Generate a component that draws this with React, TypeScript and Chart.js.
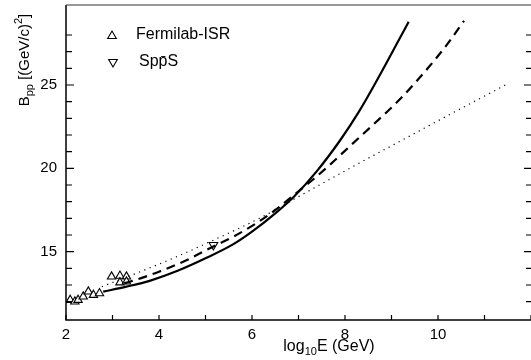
import React, { useEffect, useRef } from 'react';
import { Chart, registerables } from 'chart.js';

Chart.register(...registerables);

// Fermilab-ISR data (triangles up)
const fermiX = [2.09, 2.19, 2.26, 2.37, 2.48, 2.59, 2.72, 2.98, 3.16, 3.30, 3.16, 3.30];
const fermiY = [12.1, 12.0, 12.1, 12.3, 12.6, 12.4, 12.5, 13.5, 13.55, 13.5, 13.15, 13.2];
// SppS data (triangle down)
const sppsX = [5.17];
const sppsY = [15.4];

// solid curve
const solidX = [2.8, 3.3, 3.8, 4.4, 5.0, 5.6, 6.0, 6.5, 6.9, 7.4, 7.9, 8.3, 8.75, 9.37];
const solidY = [12.6, 12.9, 13.25, 13.85, 14.6, 15.45, 16.2, 17.3, 18.3, 19.85, 21.7, 23.4, 25.6, 28.8];
// dashed curve
const dashX = [3.25, 3.6, 4.0, 4.6, 5.16, 5.6, 6.09, 6.5, 6.9, 7.3, 7.67, 8.17, 8.56, 9.2, 9.78, 10.2, 10.56];
const dashY = [13.1, 13.4, 13.8, 14.5, 15.3, 15.9, 16.7, 17.5, 18.4, 19.3, 20.2, 21.5, 22.5, 24.2, 26.0, 27.45, 28.85];
// dotted curve
const dotX = [2.77, 3.6, 4.3, 5.1, 6.16, 7.0, 8.1, 9.3, 10.3, 11.45];
const dotY = [12.9, 13.8, 14.6, 15.6, 17.0, 18.3, 20.0, 21.8, 23.3, 25.0];

const xTickLabels = [2, 4, 6, 8, 10];
const yTickLabels = [15, 20, 25];
const legendLabels = ['Fermilab-ISR', 'Spp\u0304S'];

const FONT = '"Liberation Sans", Arial, sans-serif';

const zip = (xs: number[], ys: number[]) => xs.map((x, i) => ({ x, y: ys[i] }));

function triangle(ctx: CanvasRenderingContext2D, x: number, y: number, r: number, rot: number) {
  let rad = (rot * Math.PI) / 180;
  ctx.beginPath();
  for (let i = 0; i < 3; i++) {
    const px = x + Math.sin(rad) * r;
    const py = y - Math.cos(rad) * r;
    if (i === 0) ctx.moveTo(px, py);
    else ctx.lineTo(px, py);
    rad += (2 * Math.PI) / 3;
  }
  ctx.closePath();
  ctx.fillStyle = '#fff';
  ctx.fill();
  ctx.strokeStyle = '#000';
  ctx.lineWidth = 1.1;
  ctx.stroke();
}

const framePlugin = {
  id: 'frame',
  afterDraw(chart: any) {
    const { ctx, chartArea: a } = chart;
    const xs = chart.scales.x;
    const ys = chart.scales.y;
    ctx.save();
    ctx.strokeStyle = '#000';
    ctx.lineWidth = 1.5;
    ctx.beginPath();
    ctx.moveTo(a.left, a.top);
    ctx.lineTo(a.left, a.bottom);
    ctx.lineTo(a.right, a.bottom);
    ctx.stroke();
    ctx.strokeStyle = '#333';
    ctx.lineWidth = 1.2;
    ctx.beginPath();
    ctx.moveTo(a.left, a.top);
    ctx.lineTo(a.right, a.top);
    ctx.stroke();
    ctx.strokeStyle = '#000';
    ctx.lineWidth = 1.2;
    xs.ticks.forEach((t: any) => {
      if (!Number.isInteger(t.value)) return;
      const px = xs.getPixelForValue(t.value);
      ctx.beginPath();
      ctx.moveTo(px, a.bottom);
      ctx.lineTo(px, a.bottom - 5);
      ctx.stroke();
    });
    ys.ticks.forEach((t: any) => {
      if (!Number.isInteger(t.value)) return;
      const py = ys.getPixelForValue(t.value);
      const len = t.value % 5 === 0 ? 8 : 6;
      ctx.beginPath();
      ctx.moveTo(a.left, py);
      ctx.lineTo(a.left + len, py);
      ctx.moveTo(a.right, py);
      ctx.lineTo(a.right - len + 1, py);
      ctx.stroke();
    });

    // legend
    triangle(ctx, 112, 36, 5, 0);
    triangle(ctx, 113, 62, 5, 180);
    ctx.fillStyle = '#000';
    ctx.font = '16px ' + FONT;
    ctx.textBaseline = 'middle';
    ctx.textAlign = 'left';
    ctx.fillText(legendLabels[0], 136, 35);
    ctx.fillText(legendLabels[1], 139, 62);

    // x title
    ctx.textBaseline = 'alphabetic';
    const big = '16px ' + FONT;
    const small = '11px ' + FONT;
    ctx.font = big;
    const w1 = ctx.measureText('log').width;
    const w3 = ctx.measureText('E (GeV)').width;
    ctx.font = small;
    const w2 = ctx.measureText('10').width;
    const x0 = 329 - (w1 + w2 + w3) / 2;
    const by = 351;
    ctx.font = big;
    ctx.fillText('log', x0, by);
    ctx.font = small;
    ctx.fillText('10', x0 + w1, by + 4);
    ctx.font = big;
    ctx.fillText('E (GeV)', x0 + w1 + w2, by);

    // y title
    const ybig = '15px ' + FONT;
    ctx.save();
    ctx.translate(29, 60);
    ctx.rotate(-Math.PI / 2);
    const parts: [string, string, number][] = [
      ['B', ybig, 0],
      ['pp', small, 4],
      [' [(GeV/c)', ybig, 0],
      ['2', small, -7],
      [']', ybig, 0],
    ];
    let total = 0;
    const widths = parts.map(([s, f]) => {
      ctx.font = f;
      const w = ctx.measureText(s).width;
      total += w;
      return w;
    });
    let cx = -total / 2;
    parts.forEach(([s, f, dy], i) => {
      ctx.font = f;
      ctx.fillText(s, cx, dy);
      cx += widths[i];
    });
    ctx.restore();

    ctx.restore();
  },
};

export default function App() {
  const ref = useRef<HTMLCanvasElement>(null);
  useEffect(() => {
    document.body.style.margin = '0';
    const canvas = ref.current!;
    const chart = new Chart(canvas, {
      type: 'scatter',
      data: {
        datasets: [
          {
            label: 'solid',
            data: zip(solidX, solidY),
            showLine: true,
            borderColor: '#000',
            borderWidth: 2.2,
            pointRadius: 0,
            cubicInterpolationMode: 'monotone',
          } as any,
          {
            label: 'dashed',
            data: zip(dashX, dashY),
            showLine: true,
            borderColor: '#000',
            borderWidth: 2.2,
            borderDash: [9, 6],
            pointRadius: 0,
            cubicInterpolationMode: 'monotone',
          } as any,
          {
            label: 'dotted',
            data: zip(dotX, dotY),
            showLine: true,
            borderColor: '#000',
            borderWidth: 1.2,
            borderDash: [1.2, 4.5],
            pointRadius: 0,
            cubicInterpolationMode: 'monotone',
          } as any,
          {
            label: legendLabels[0],
            data: zip(fermiX, fermiY),
            pointStyle: 'triangle',
            pointRadius: 4.8,
            pointBorderWidth: 1.1,
            pointBackgroundColor: '#fff',
            pointBorderColor: '#000',
          } as any,
          {
            label: legendLabels[1],
            data: zip(sppsX, sppsY),
            pointStyle: 'triangle',
            rotation: 180,
            pointRadius: 5,
            pointBorderWidth: 1.1,
            pointBackgroundColor: '#fff',
            pointBorderColor: '#000',
          } as any,
        ],
      },
      options: {
        animation: false,
        responsive: false,
        layout: { autoPadding: false, padding: { top: 5, right: 0, left: 0, bottom: 0 } },
        plugins: { legend: { display: false }, tooltip: { enabled: false } },
        scales: {
          x: {
            type: 'linear',
            min: 2,
            max: 12,
            grid: { display: false, drawTicks: false },
            border: { display: false },
            afterFit: (s: any) => {
              s.height = 40;
              s.paddingLeft = 0;
              s.paddingRight = 0;
            },
            ticks: {
              stepSize: 1,
              autoSkip: false,
              maxRotation: 0,
              padding: 6,
              color: '#000',
              font: { family: FONT, size: 15 },
              callback: (v: any) => (xTickLabels.includes(Number(v)) ? String(v) : ''),
            },
          },
          y: {
            type: 'linear',
            min: 10.9,
            max: 29.8,
            grid: { display: false, drawTicks: false },
            border: { display: false },
            afterFit: (s: any) => {
              s.width = 66;
              s.paddingTop = 0;
              s.paddingBottom = 0;
            },
            ticks: {
              stepSize: 1,
              autoSkip: false,
              maxTicksLimit: 100,
              padding: 9,
              color: '#000',
              font: { family: FONT, size: 15 },
              callback: (v: any) => (yTickLabels.includes(Number(v)) ? String(v) : ''),
            },
          },
        },
      },
      plugins: [framePlugin],
    });
    return () => chart.destroy();
  }, []);
  return <canvas ref={ref} width={531} height={360} style={{ display: 'block' }} />;
}
